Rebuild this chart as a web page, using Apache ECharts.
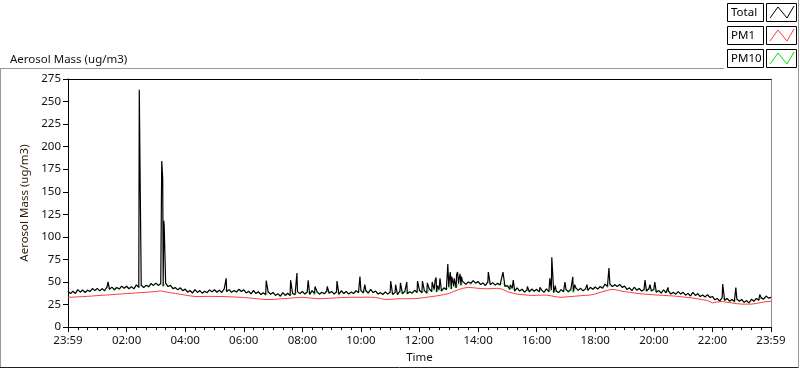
<!DOCTYPE html>
<html><head><meta charset="utf-8">
<script src="https://cdn.jsdelivr.net/npm/echarts/dist/echarts.min.js"></script>
<style>html,body{margin:0;padding:0;background:#fff}#c{width:800px;height:369px}</style>
</head><body><div id="c"></div>
<script>
// ---- data (minutes after 23:59 start of day) ----
const xTickLabels = ['23:59','02:00','04:00','06:00','08:00','10:00','12:00','14:00','16:00','18:00','20:00','22:00','23:59'];
const seriesNames = ['Total','PM1','PM10'];
const seriesColors = ['#000000','#ff3b3b','#00e000'];

const totalStep = 5;
const totalBase = [
39.8,37.1,39.7,37.2,41.6,38.7,41.1,38.4,40.8,39.4,42.7,40.4,
42.9,40.2,42.7,40.3,44.7,41.8,44.3,41.6,43.8,42.2,45.4,43.0,
45.3,42.5,44.9,42.4,46.8,44.0,46.5,43.9,46.3,44.9,48.3,46.2,
48.8,46.2,48.4,45.3,48.8,44.9,46.3,42.6,43.8,41.3,43.6,40.4,
42.1,38.7,40.6,37.7,41.6,38.4,40.5,37.6,39.7,38.1,41.3,39.0,
41.4,38.6,41.0,38.4,42.5,39.3,41.5,38.5,40.6,38.9,41.9,39.4,
41.3,37.9,39.8,36.8,40.6,37.2,39.2,36.1,38.0,36.2,39.1,36.4,
38.4,35.1,37.1,34.2,38.2,35.1,37.5,34.9,37.3,35.9,39.3,37.1,
39.5,36.6,38.9,36.2,40.4,37.3,39.4,36.5,38.6,36.9,40.0,37.5,
39.6,36.6,38.9,36.2,40.3,37.2,39.5,36.6,38.8,37.2,40.4,38.1,
40.6,38.0,40.6,37.9,41.8,38.3,40.0,36.6,38.2,36.1,39.0,36.5,
38.9,36.1,38.5,36.0,40.2,37.3,39.6,36.9,39.1,37.6,40.8,38.4,
40.8,38.0,40.4,37.9,42.2,39.3,41.7,39.0,41.4,40.0,43.5,41.5,
44.4,42.2,45.3,43.5,48.5,46.4,49.5,47.4,50.1,48.6,51.5,48.7,
50.6,47.2,49.0,46.1,50.1,47.0,49.3,46.5,48.6,46.6,48.9,45.2,
46.0,41.8,43.1,39.8,43.4,40.0,42.0,39.0,41.0,39.2,42.2,39.7,
41.9,39.0,41.2,38.5,42.5,39.2,41.2,38.1,40.1,38.3,41.5,39.2,
41.8,39.2,41.8,39.4,43.7,40.7,43.0,40.2,42.4,40.8,44.1,41.9,
44.5,42.1,45.0,43.0,47.7,45.1,47.7,45.0,47.0,44.9,47.3,44.0,
45.4,41.8,43.5,40.4,44.2,40.9,42.9,39.9,41.8,39.9,42.8,40.1,
42.0,38.7,40.6,37.6,41.4,38.0,39.9,36.7,38.5,36.5,39.3,36.6,
38.6,35.4,37.4,34.5,38.4,35.1,37.0,33.8,35.5,33.4,36.0,32.8,
34.0,30.2,31.8,28.8,32.8,29.7,31.8,28.7,30.5,28.5,31.3,28.6,
30.6,27.4,29.4,26.7,31.0,28.6,31.8,29.8,32.4,31.0,34.4,32.1,
33.0];
const totalSpikes = [
[82,50],[146,263],[148,152],[192,184],[194,165],[196,118],[197,113],[324,54],[406,51.5],
[456,52],[469,60],[492,52],[506,45],[531,45],[551,51],[598,56],[608,47],[661,51],[671,47],
[681,49],[694,50],[716,51],[726,51],[736,49],[746,50],[752,52],[754,55],[757,46],[762,54],
[778,70],[781,52],[783,61],[786,56],[788,57],[791,54],[793,49],[796,58],[798,61],[801,53],
[803,59],[806,56],[808,51],[809,53],[861,61],[886,49],[891,61],[906,47],[912,52],[941,45],
[967,44],[987,54],[991,77.5],[998,46],[1018,50],[1034,55.7],[1038,47],[1063,47],[1094,47],
[1108,65.5],[1182,52],[1192,47],[1202,50],[1229,44],[1341,47.7],[1368,43.7],[1417,36]];

const pm1Step = 10;
const pm1Values = [
33.0,33.2,33.5,33.8,34.1,34.5,34.9,35.3,35.6,36.0,36.4,36.8,
37.2,37.5,37.9,38.2,38.6,39.0,39.5,40.2,39.0,38.0,37.3,36.3,
35.5,34.6,34.0,33.8,34.0,34.1,34.0,33.9,33.9,33.6,33.4,33.1,
32.8,32.3,31.8,31.3,30.8,30.5,30.7,31.1,31.5,31.8,32.3,32.8,
33.0,32.6,32.0,31.6,31.5,31.8,32.1,32.4,32.7,32.9,33.0,33.1,
33.0,33.2,33.1,32.9,31.8,30.6,30.8,31.2,31.5,31.4,31.5,31.6,
32.0,32.7,33.5,34.2,35.0,36.0,37.2,39.5,41.5,43.2,44.0,43.6,
43.0,42.6,42.5,42.8,43.0,42.0,39.3,37.8,36.5,36.0,35.5,35.1,
35.2,35.5,35.4,34.6,33.6,33.0,33.4,33.9,34.3,34.8,35.2,35.5,
36.8,38.5,40.0,41.5,41.6,40.3,39.3,38.6,37.8,37.1,36.6,36.2,
35.8,35.4,35.1,34.8,34.5,34.0,33.4,32.8,32.2,31.3,30.4,29.5,
26.8,27.8,28.4,27.5,26.8,26.0,25.5,25.4,25.5,26.2,27.2,28.3,
28.5];

const pm10Step = 5;
const pm10Values = [
39.8,37.1,39.7,37.2,41.6,38.7,41.1,38.4,40.8,39.4,42.7,40.4,
42.9,40.2,42.7,40.3,44.7,41.8,44.3,40.0,43.8,42.2,45.4,43.0,
45.3,42.5,44.9,42.4,46.8,44.0,46.5,43.9,46.3,43.4,48.3,46.2,
48.8,46.2,48.4,45.3,48.8,44.9,46.3,42.6,43.8,41.3,43.6,40.4,
42.1,38.7,40.6,37.7,41.6,38.4,40.5,37.6,39.7,38.1,41.3,39.0,
41.4,38.6,41.0,38.4,42.5,39.3,41.5,38.5,40.6,38.9,41.9,39.4,
41.3,37.9,39.8,36.8,40.6,37.2,39.2,36.1,38.0,34.8,39.1,36.4,
38.4,35.1,37.1,34.2,38.2,35.1,37.5,34.9,37.3,35.9,39.3,37.1,
39.5,36.6,38.9,36.2,40.4,35.6,39.4,36.5,38.6,36.9,40.0,37.5,
39.6,36.6,38.9,36.2,40.3,37.2,39.5,36.6,38.8,37.2,40.4,38.1,
40.6,38.0,40.6,36.3,41.8,38.3,40.0,36.6,38.2,36.1,39.0,36.5,
38.9,36.1,38.5,36.0,40.2,35.8,39.6,36.9,39.1,37.6,40.8,38.4,
40.8,38.0,40.4,36.4,42.2,39.3,41.7,39.0,41.4,40.0,43.5,41.5,
44.4,42.2,45.3,43.5,48.5,46.4,49.5,47.4,50.1,47.0,51.5,48.7,
50.6,47.2,49.0,46.1,50.1,47.0,49.3,46.5,48.6,46.6,48.9,45.2,
46.0,41.8,43.1,39.8,43.4,40.0,42.0,37.6,41.0,39.2,42.2,39.7,
41.9,39.0,41.2,38.5,42.5,39.2,41.2,38.1,40.1,38.3,41.5,39.2,
41.8,39.2,41.8,38.0,43.7,40.7,43.0,40.2,42.4,40.8,44.1,41.9,
44.5,42.1,45.0,43.0,47.7,43.6,47.7,45.0,47.0,44.9,47.3,44.0,
45.4,41.8,43.5,40.4,44.2,40.9,42.9,39.9,41.8,39.9,42.8,40.1,
42.0,38.7,40.6,37.6,41.4,38.0,39.9,36.7,38.5,36.5,39.3,36.6,
38.6,35.4,37.4,34.5,38.4,35.1,37.0,33.8,35.5,33.4,36.0,32.8,
34.0,30.2,31.8,28.8,32.8,29.7,31.8,28.7,30.5,27.2,31.3,28.6,
30.6,27.4,29.4,26.7,31.0,28.6,31.8,29.8,32.4,31.0,34.4,32.1,
33.0];

// ---- build series data ----
function stepSeries(vals, step){ return vals.map((v,i)=>[i*step, v]); }
const totalData = stepSeries(totalBase, totalStep).concat(totalSpikes).sort((a,b)=>a[0]-b[0]);
const pm1Data = stepSeries(pm1Values, pm1Step);
const pm10Data = stepSeries(pm10Values, pm10Step);

const FONT = 'Noto Sans';
const FS = 11.5;
const chart = echarts.init(document.getElementById('c'));

// legend graphics (LabVIEW-style plot legend)
const legendGraphics = [];
const rowY = [3, 26, 49];
seriesNames.forEach((n,i)=>{
  const y = rowY[i];
  legendGraphics.push({type:'rect', shape:{x:727.5,y:y+0.5,width:36,height:18}, style:{fill:'#fff',stroke:'#000',lineWidth:1}});
  legendGraphics.push({type:'text', x:731, y:y+10, style:{text:n, fill:'#000', font:FS+'px "'+FONT+'"', textVerticalAlign:'middle'}});
  legendGraphics.push({type:'rect', shape:{x:766.5,y:y+0.5,width:30,height:18}, style:{fill:'#fff',stroke:'#000',lineWidth:1}});
  legendGraphics.push({type:'polyline', shape:{points:[[770,y+15],[778,y+4],[787,y+15],[794,y+3]]}, style:{stroke:seriesColors[i],lineWidth:1,fill:null}});
});
const frameGraphics = [
  {type:'line', shape:{x1:0,y1:68.5,x2:724,y2:68.5}, style:{stroke:'#9a9a9a',lineWidth:1}},
  {type:'line', shape:{x1:0.5,y1:68,x2:0.5,y2:368}, style:{stroke:'#9a9a9a',lineWidth:1}},
  {type:'line', shape:{x1:0,y1:367.5,x2:799,y2:367.5}, style:{stroke:'#222',lineWidth:1}},
  {type:'line', shape:{x1:798.5,y1:0,x2:798.5,y2:368}, style:{stroke:'#9a9a9a',lineWidth:1}}
];

const txt = {fontFamily:FONT, fontSize:FS, color:'#111'};
const option = {
  animation:false,
  backgroundColor:'#fff',
  title:{text:'Aerosol Mass (ug/m3)', left:5, top:49, textStyle:{fontFamily:FONT, fontSize:FS, fontWeight:'normal', color:'#111'}},
  grid:{left:68, top:79, width:703, height:252, show:false},
  xAxis:[{
    type:'value', min:0, max:1440, interval:120,
    name:'Time', nameLocation:'middle', nameGap:23, nameTextStyle:txt,
    axisLine:{lineStyle:{color:'#000',width:1}},
    axisTick:{length:5, lineStyle:{color:'#000'}},
    minorTick:{show:true, splitNumber:6, length:3, lineStyle:{color:'#000'}},
    axisLabel:Object.assign({margin:8, formatter:v=>xTickLabels[Math.round(v/120)]}, txt),
    splitLine:{show:false}
  },{
    type:'value', position:'top', min:0, max:1440,
    axisLine:{show:true, onZero:false, lineStyle:{color:'#000'}},
    axisTick:{show:false}, axisLabel:{show:false}, splitLine:{show:false}
  }],
  yAxis:[{
    type:'value', min:0, max:275, interval:25,
    name:'Aerosol Mass (ug/m3)', nameLocation:'middle', nameGap:31, nameTextStyle:Object.assign({}, txt, {color:'#2a1a0a'}),
    axisLine:{show:true, lineStyle:{color:'#000'}},
    axisTick:{show:true, length:5, lineStyle:{color:'#000'}},
    axisLabel:Object.assign({margin:7}, txt),
    splitLine:{show:false}
  },{
    type:'value', position:'right', min:0, max:275,
    axisLine:{show:true, onZero:false, lineStyle:{color:'#8a8a8a'}},
    axisTick:{show:false}, axisLabel:{show:false}, splitLine:{show:false}
  }],
  series:[
    {name:seriesNames[2], type:'line', data:pm10Data, showSymbol:false, xAxisIndex:0, yAxisIndex:0, lineStyle:{color:seriesColors[2], width:0.6}, itemStyle:{color:seriesColors[2]}, z:2},
    {name:seriesNames[0], type:'line', data:totalData, showSymbol:false, xAxisIndex:0, yAxisIndex:0, lineStyle:{color:seriesColors[0], width:1.2}, itemStyle:{color:seriesColors[0]}, z:3},
    {name:seriesNames[1], type:'line', data:pm1Data, showSymbol:false, xAxisIndex:0, yAxisIndex:0, lineStyle:{color:seriesColors[1], width:1}, itemStyle:{color:seriesColors[1]}, z:4}
  ],
  graphic:{elements:frameGraphics.concat(legendGraphics)}
};
chart.setOption(option);
</script>
</body></html>
